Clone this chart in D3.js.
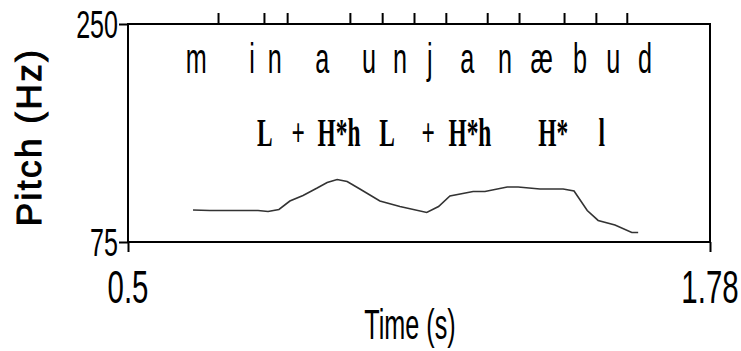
<!DOCTYPE html>
<html>
<head>
<meta charset="utf-8">
<script src="https://cdn.jsdelivr.net/npm/d3@7"></script>
<style>
  body { margin: 0; background: #fff; }
  svg { display: block; }
  .axis path, .axis line { stroke: #000; stroke-width: 2; }
</style>
</head>
<body>
<script>
// pitch track (time in s, pitch in Hz)
const pitchTime = [0.643, 0.680, 0.786, 0.808, 0.832, 0.856, 0.885, 0.916, 0.938, 0.960, 0.982,
  1.010, 1.054, 1.098, 1.157, 1.183, 1.208, 1.259, 1.285, 1.334, 1.358, 1.406, 1.457,
  1.481, 1.510, 1.534, 1.571, 1.608, 1.622];
const pitchHz = [100.7, 100.3, 100.3, 99.5, 101.1, 107.9, 112.3, 118.3, 122.8, 125.2, 123.6,
  117.5, 107.9, 103.5, 98.7, 103.5, 111.9, 115.5, 115.5, 119.1, 119.1, 117.5, 117.5,
  115.9, 100.3, 92.3, 88.6, 82.6, 82.6];

// segment boundaries (top ticks) and segment labels
const boundaries = [0.698, 0.799, 0.850, 0.988, 1.059, 1.129, 1.199, 1.290, 1.360, 1.459, 1.529, 1.597];
const segLabels = ["m", "i", "n", "a", "u", "n", "j", "a", "n", "æ", "b", "u", "d"];
const segTimes = [0.650, 0.773, 0.823, 0.927, 1.030, 1.098, 1.164, 1.246, 1.329, 1.410, 1.494, 1.567, 1.637];

// tonal labels
const toneLabels = ["L", "+", "H*h", "L", "+", "H*h", "H*", "l"];
const toneTimes = [0.801, 0.874, 0.964, 1.070, 1.160, 1.252, 1.435, 1.542];

const xTicks = [0.5, 1.78];
const yTicks = [75, 250];

const W = 741, H = 351;
const margin = {top: 24, right: 31, bottom: 109, left: 128};
const w = W - margin.left - margin.right;
const h = H - margin.top - margin.bottom;

const svg = d3.select("body").append("svg")
    .attr("width", W)
    .attr("height", H);

const g = svg.append("g")
    .attr("transform", "translate(" + margin.left + "," + margin.top + ")");

const x = d3.scaleLinear().domain([0.5, 1.78]).range([0, w]);
const y = d3.scaleLinear().domain([75, 250]).range([h, 0]);

// condensed text helper (the figure's text is squeezed horizontally)
function squeezed(parent, str, px, py, size, sx, family, weight, anchor) {
    return parent.append("text")
        .attr("transform", "translate(" + px + "," + py + ") scale(" + sx + ",1)")
        .attr("text-anchor", anchor || "middle")
        .style("font-family", family)
        .style("font-weight", weight || "normal")
        .style("font-size", size + "px")
        .attr("fill", "#000")
        .text(str);
}

//Frame
g.append("rect")
    .attr("width", w)
    .attr("height", h)
    .attr("fill", "none")
    .attr("stroke", "#000")
    .attr("stroke-width", 2);

//Axes
const sans = "'Liberation Sans', Arial, sans-serif";

g.append("g").attr("class", "axis")
    .call(d3.axisLeft(y).tickValues(yTicks).tickSize(9).tickFormat(""))
    .select(".domain").remove();
yTicks.forEach(function(v) {
    squeezed(g, String(v), -10, y(v) + 14, 38, 0.66, sans, "normal", "end");
});

g.append("g").attr("class", "axis")
    .attr("transform", "translate(0," + h + ")")
    .call(d3.axisBottom(x).tickValues(xTicks).tickSize(10).tickFormat(""))
    .select(".domain").remove();
xTicks.forEach(function(v) {
    squeezed(g, String(v), x(v), h + 61, 46, 0.64, sans, "normal", "middle");
});

g.append("g").attr("class", "axis")
    .call(d3.axisTop(x).tickValues(boundaries).tickSize(11).tickFormat(""))
    .select(".domain").remove();

//Axis titles
squeezed(svg, "Time (s)", 410, 339, 42, 0.6, sans, "normal", "middle");
svg.append("text")
    .attr("transform", "translate(41,137) rotate(-90)")
    .attr("text-anchor", "middle")
    .style("font-family", sans)
    .style("font-size", "35px")
    .style("letter-spacing", "2.5px")
    .attr("fill", "#000")
    .attr("stroke", "#000")
    .attr("stroke-width", 1)
    .text("Pitch (Hz)");

//Segment labels
segLabels.forEach(function(s, i) {
    squeezed(g, s, x(segTimes[i]), 49, 42, 0.6, sans, "normal", "middle");
});

//Tone labels
toneLabels.forEach(function(s, i) {
    squeezed(g, s, x(toneTimes[i]), 122, 39, 0.6, "'Liberation Serif', 'Times New Roman', serif", "bold", "middle");
});

//Pitch line
const line = d3.line()
    .x(function(d, i) { return x(pitchTime[i]); })
    .y(function(d) { return y(d); });

g.append("path")
    .datum(pitchHz)
    .attr("fill", "none")
    .attr("stroke", "#333")
    .attr("stroke-width", 1.6)
    .attr("d", line);
</script>
</body>
</html>
